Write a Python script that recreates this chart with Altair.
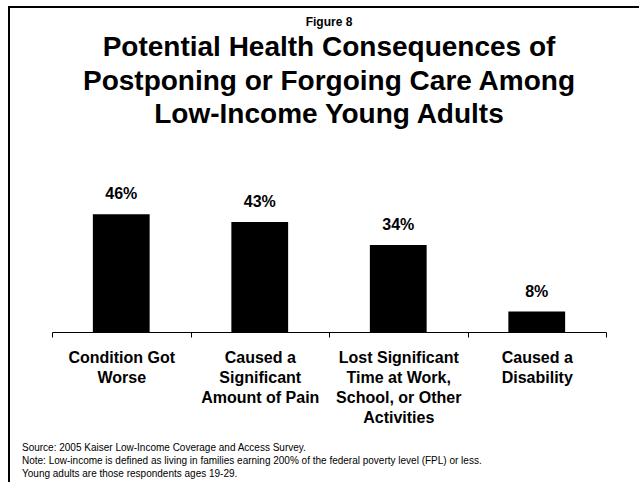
import altair as alt
import pandas as pd

# Survey results: share of low-income young adults reporting each consequence
categories = [
    "Condition Got|Worse",
    "Caused a|Significant|Amount of Pain",
    "Lost Significant|Time at Work,|School, or Other|Activities",
    "Caused a|Disability",
]
values = [46, 43, 34, 8]

footnotes = [
    "Source: 2005 Kaiser Low-Income Coverage and Access Survey.",
    "Note: Low-income is defined as living in families earning 200% of the federal poverty level (FPL) or less.",
    "Young adults are those respondents ages 19-29.",
]

figure_label = "Figure 8"
title_lines = [
    "Potential Health Consequences of",
    "Postponing or Forgoing Care Among",
    "Low-Income Young Adults",
]

FONT = "Liberation Sans"
W, H = 554, 128
PAD = {"left": 52, "top": 204, "right": 33, "bottom": 150}

df = pd.DataFrame({"category": categories, "value": values})
one = pd.DataFrame({"t": [0]})

x_enc = alt.X(
    "category:N",
    sort=categories,
    scale=alt.Scale(paddingInner=0, paddingOuter=0),
    axis=alt.Axis(
        title=None,
        labelAngle=0,
        labelExpr="split(datum.label, '|')",
        labelFontSize=16,
        labelFontWeight="bold",
        labelColor="black",
        labelLineHeight=20,
        labelPadding=12,
        labelFont=FONT,
        labelLimit=0,
        domainColor="black",
        tickColor="black",
        tickSize=5,
        tickBand="extent",
    ),
)
y_enc = alt.Y("value:Q", scale=alt.Scale(domain=[0, 50]), axis=None)

base = alt.Chart(df)

bars = base.mark_bar(color="black", width=alt.RelativeBandSize(0.41)).encode(
    x=x_enc, y=y_enc
)

labels = base.transform_calculate(label="datum.value + '%'").mark_text(
    font=FONT, fontSize=16, fontWeight="bold", color="black",
    baseline="alphabetic", dy=-15,
).encode(x=x_enc, y=y_enc, text="label:N")

# Heading block above the plot
fig_label = alt.Chart(one).mark_text(
    font=FONT, fontSize=12, fontWeight="bold", color="black",
    align="center", baseline="middle",
).encode(x=alt.value(277), y=alt.value(-182), text=alt.value(figure_label))

heading = alt.Chart(one).mark_text(
    font=FONT, fontSize=28, fontWeight="bold", color="black",
    align="center", baseline="middle", lineHeight=33.5,
).encode(x=alt.value(277), y=alt.value(-156), text=alt.value(title_lines))

notes = alt.Chart(one).mark_text(
    font=FONT, fontSize=10, color="black", align="left",
    baseline="middle", lineHeight=13,
).encode(x=alt.value(-30), y=alt.value(244), text=alt.value(footnotes))

# Open frame: top and left edges of the slide border, with both ends of
# each rule given explicitly so that no other side gets drawn
right_edge = W + PAD["right"]
bottom_edge = H + PAD["bottom"]
frame_top = alt.Chart(one).mark_rule(color="black", strokeWidth=2).encode(
    x=alt.value(-44), x2=alt.value(right_edge),
    y=alt.value(-197), y2=alt.value(-197),
)
frame_left = alt.Chart(one).mark_rule(color="black", strokeWidth=2).encode(
    x=alt.value(-43), x2=alt.value(-43),
    y=alt.value(-198), y2=alt.value(bottom_edge),
)

chart = (
    alt.layer(frame_top, frame_left, bars, labels, fig_label, heading, notes)
    .properties(
        width=W,
        height=H,
        autosize=alt.AutoSizeParams(type="none"),
        padding=PAD,
    )
    .configure_view(strokeWidth=0)
)

chart.save("out.html", embed_options={"renderer": "svg", "actions": False})
